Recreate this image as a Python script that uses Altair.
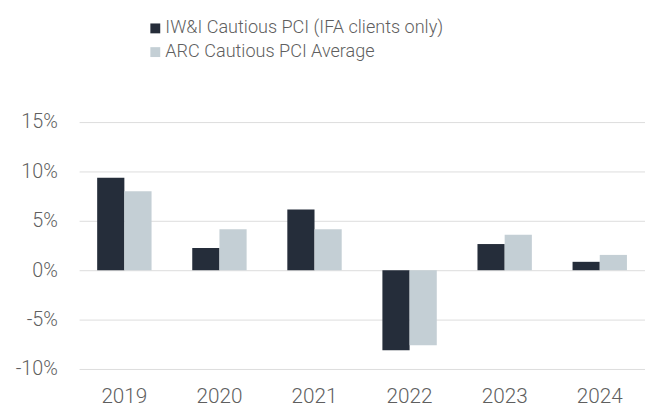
import altair as alt
import pandas as pd

years = ["2019", "2020", "2021", "2022", "2023", "2024"]
series_names = ["IW&I Cautious PCI (IFA clients only)", "ARC Cautious PCI Average"]
iwi_values = [9.35, 2.25, 6.15, -8.1, 2.65, 0.85]
arc_values = [8.0, 4.15, 4.15, -7.6, 3.6, 1.55]
colors = ["#252d3a", "#c4cfd5"]
y_ticks = [-10, -5, 0, 5, 10, 15]

rows = []
for i, y in enumerate(years):
    rows.append({"year": y, "series": series_names[0], "value": iwi_values[i]})
    rows.append({"year": y, "series": series_names[1], "value": arc_values[i]})
df = pd.DataFrame(rows)

FONT = "Roboto"
TXT = "#5f5f5f"
W = 300

chart = alt.Chart(df).mark_bar().encode(
    x=alt.X("year:N", sort=years,
            scale=alt.Scale(paddingInner=0.428, paddingOuter=0.19),
            axis=alt.Axis(title=None, labelAngle=0, domain=False, ticks=False,
                          labelPadding=17, labelFontSize=21, labelColor=TXT,
                          labelFont=FONT, labelFontWeight=W, grid=False)),
    xOffset=alt.XOffset("series:N", sort=series_names),
    y=alt.Y("value:Q",
            scale=alt.Scale(domain=[-10, 15], nice=False),
            axis=alt.Axis(title=None, values=y_ticks, domain=False, ticks=False,
                          labelExpr="datum.value + '%'", labelPadding=22,
                          labelFontSize=20, labelColor=TXT, labelFont=FONT,
                          labelFontWeight=W,
                          grid=True, gridColor="#dcdcdc", gridWidth=1)),
    color=alt.Color("series:N", sort=series_names,
                    scale=alt.Scale(domain=series_names, range=colors),
                    legend=alt.Legend(title=None, orient="none", legendX=68, legendY=-104,
                                      direction="vertical", labelFontSize=18.3,
                                      labelColor=TXT, labelFont=FONT, labelFontWeight=W,
                                      symbolType="square", symbolSize=100,
                                      symbolStrokeWidth=0, symbolOpacity=1,
                                      labelOffset=1, rowPadding=5, padding=0,
                                      labelLimit=600)),
).properties(
    width=573,
    height=250,
    autosize=alt.AutoSizeParams(type="none"),
    padding={"left": 72, "top": 113, "right": 0, "bottom": 36},
).configure(font=FONT).configure_view(stroke=None)

chart.save("out.html", embed_options={"renderer": "svg", "actions": False})
